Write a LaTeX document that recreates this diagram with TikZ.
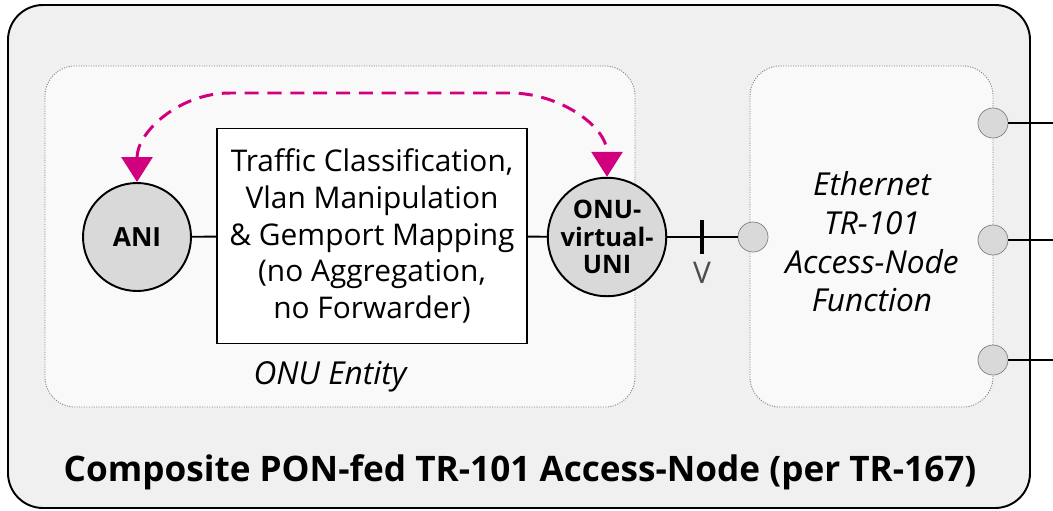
\documentclass[tikz,border=0pt]{standalone}
\usepackage{fontspec}
\setmainfont{Open Sans}
\usepackage{tikz}
\usetikzlibrary{calc,positioning,arrows.meta}
\definecolor{outerbg}{HTML}{F0F0F0}
\definecolor{innerbg}{HTML}{F9F9F9}
\definecolor{portgray}{HTML}{D9D9D9}
\definecolor{mgnta}{HTML}{D1007F}

\begin{document}
\begin{tikzpicture}[x=0.02cm, y=-0.02cm, font=\fontsize{17}{21}\selectfont,
  entity/.style={draw=gray, line width=0.5pt, dash pattern=on 0.6pt off 0.8pt, fill=innerbg, rounded corners=0.6cm},
  iface/.style={circle, draw, line width=1.1pt, fill=portgray, minimum size=2.16cm, inner sep=0pt, align=center},
  port/.style={circle, draw=gray, fill=portgray, minimum size=0.6cm, inner sep=0pt},
  link/.style={draw, line width=1.1pt}]
        \useasboundingbox (0,0) rectangle (1053,510);
        \draw[line width=1.1pt, fill=outerbg, rounded corners=0.7cm] (8,5) rectangle (1030,508);
        \draw[entity] (45,66) rectangle (635,407);
        \draw[entity] (750,66) rectangle (993,407);

        \node (ani) [iface, font=\bfseries\fontsize{15}{16}\selectfont] at (137,237) {ANI};
        \node (tcm) [draw, line width=1.1pt, fill=white, minimum width=6.2cm, minimum height=4.3cm, align=center] at (372,236) {Traffic Classification,\\Vlan Manipulation\\\& Gemport Mapping\\(no Aggregation,\\no Forwarder)};
        \node (vuni) [iface, font=\bfseries\fontsize{14.5}{15.5}\selectfont] at (607,237) {ONU-\\virtual-\\UNI};
        \node (vport) [port] at (753,237) {};
        \coordinate (vtick) at (702,237);
        \node (vlbl) [text=black!70] at (702,273) {V};

        \node (eth) [font=\itshape\fontsize{18}{22}\selectfont, align=center] at (872,242) {Ethernet\\TR-101\\Access-Node\\Function};
        \node (p1) [port] at (993,123) {};
        \node (p2) [port] at (993,240) {};
        \node (p3) [port] at (993,360) {};
        \coordinate (e1) at (1053,123);
        \coordinate (e2) at (1053,240);
        \coordinate (e3) at (1053,360);

        \node (onulbl) [font=\itshape\fontsize{18}{20}\selectfont] at (330,377) {ONU Entity};
        \node (title) [font=\bfseries\fontsize{20}{24}\selectfont] at (520,472) {Composite PON-fed TR-101 Access-Node (per TR-167)};

        \draw[link] (ani) -- (tcm);
        \draw[link] (tcm) -- (vuni);
        \draw[link] (vuni) -- (vport);
        \draw[line width=2pt] ($(vtick)+(0,-17)$) -- ($(vtick)+(0,17)$);
        \draw[link] (p1) -- (e1);
        \draw[link] (p2) -- (e2);
        \draw[link] (p3) -- (e3);

        % signalling between the two interfaces
        \draw[mgnta, line width=1.7pt, dash pattern=on 8pt off 5pt, {Triangle[length=0.5cm, width=0.62cm]}-{Triangle[length=0.5cm, width=0.62cm]}]
            (ani.north) to[out=90, in=180] (230,93) -- (510,93) to[out=0, in=90] (vuni.north);
\end{tikzpicture}
\end{document}
